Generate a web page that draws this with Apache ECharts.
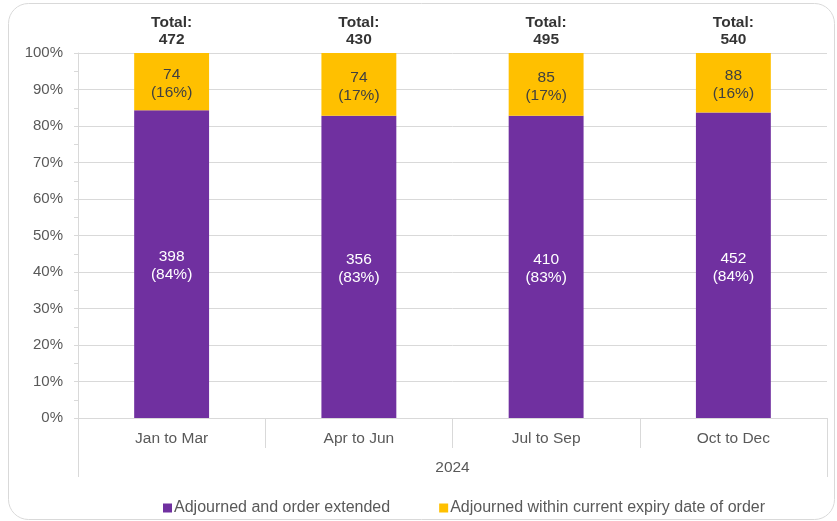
<!DOCTYPE html>
<html>
<head>
<meta charset="utf-8">
<script src="https://cdn.jsdelivr.net/npm/echarts@6/dist/echarts.min.js"></script>
<style>
  html, body { margin: 0; padding: 0; background: #fff; }
  #chart { width: 837px; height: 521px; }
</style>
</head>
<body>
<div id="chart"></div>
<script>
// chart data
const quarters = ['Jan to Mar', 'Apr to Jun', 'Jul to Sep', 'Oct to Dec'];
const year = ['2024'];
const extended = [398, 356, 410, 452];
const withinExpiry = [74, 74, 85, 88];
const totals = [472, 430, 495, 540];
const seriesNames = ['Adjourned and order extended', 'Adjourned within current expiry date of order'];

const pct = (v, i) => v / totals[i] * 100;
const extendedPct = extended.map(pct);
const withinPct = withinExpiry.map(pct);

const font = 'Liberation Sans, Arial, sans-serif';
const grey = '#595959';
const lineColor = '#d9d9d9';

const chart = echarts.init(document.getElementById('chart'), null, { renderer: 'canvas' });

function labelFor(raw) {
  return p => raw[p.dataIndex] + '\n(' + Math.round(p.value) + '%)';
}

chart.setOption({
  animation: false,
  textStyle: { fontFamily: font },
  graphic: [{
    type: 'rect',
    shape: { x: 8.5, y: 3.5, width: 826, height: 516, r: 20 },
    style: { fill: 'none', stroke: lineColor, lineWidth: 1 },
    silent: true
  }],
  grid: { left: 78, right: 10, top: 53, bottom: 103 },
  legend: {
    bottom: 0,
    left: 158,
    itemWidth: 9,
    itemHeight: 9,
    itemGap: 49,
    icon: 'rect',
    textStyle: { color: grey, fontSize: 16, fontFamily: font, padding: [0, 0, 0, -3] },
    data: seriesNames
  },
  xAxis: [{
    type: 'category',
    data: quarters,
    axisLine: { lineStyle: { color: lineColor } },
    axisTick: { show: true, length: 30, lineStyle: { color: lineColor } },
    axisLabel: { color: grey, fontSize: 15.5, margin: 13 }
  }, {
    type: 'category',
    data: year,
    position: 'bottom',
    axisLine: { show: false },
    axisTick: { show: true, length: 59, lineStyle: { color: lineColor } },
    axisLabel: { color: grey, fontSize: 15.5, margin: 42 }
  }],
  yAxis: {
    type: 'value',
    min: 0,
    max: 100,
    interval: 10,
    axisLine: { show: true, lineStyle: { color: lineColor } },
    axisTick: { show: true, length: 4, lineStyle: { color: lineColor } },
    minorTick: { show: true, splitNumber: 2, length: 4, lineStyle: { color: lineColor } },
    splitLine: { lineStyle: { color: lineColor } },
    axisLabel: { color: grey, fontSize: 15, margin: 15, formatter: '{value}%' }
  },
  series: [{
    name: seriesNames[0],
    type: 'bar',
    stack: 'q',
    barWidth: '40%',
    data: extendedPct,
    itemStyle: { color: '#7030A0' },
    label: {
      show: true,
      position: 'inside',
      offset: [0, 2],
      color: '#fff',
      fontSize: 15.5,
      lineHeight: 18,
      formatter: labelFor(extended)
    }
  }, {
    name: seriesNames[1],
    type: 'bar',
    stack: 'q',
    barWidth: '40%',
    data: withinPct,
    itemStyle: { color: '#FFC000' },
    label: {
      show: true,
      position: 'inside',
      offset: [0, 2],
      color: '#404040',
      fontSize: 15.5,
      lineHeight: 18,
      formatter: labelFor(withinExpiry)
    }
  }, {
    name: 'Total',
    type: 'scatter',
    data: totals.map(() => 100),
    symbolSize: 0,
    silent: true,
    label: {
      show: true,
      position: 'top',
      distance: 5,
      color: '#000',
      fontWeight: 'bold',
      fontSize: 15.5,
      lineHeight: 17,
      formatter: p => 'Total:\n' + totals[p.dataIndex]
    }
  }]
});
</script>
</body>
</html>
